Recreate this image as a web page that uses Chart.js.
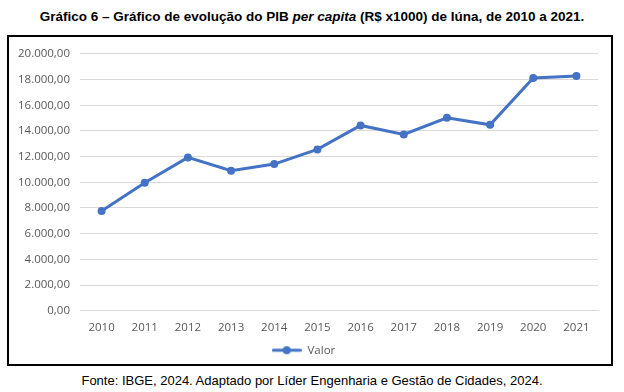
<!DOCTYPE html>
<html>
<head>
<meta charset="utf-8">
<script src="https://cdn.jsdelivr.net/npm/chart.js@4"></script>
<style>
  html, body { margin: 0; padding: 0; background: #fff; }
  body { width: 624px; height: 392px; position: relative; overflow: hidden; }
  #title { position: absolute; left: 0; top: 9px; width: 624px; text-align: center;
    font-family: "Liberation Sans", Arial, sans-serif; font-weight: bold; font-size: 13.5px; color: #000; }
  #title i { font-style: italic; }
  #box { position: absolute; left: 7px; top: 35px; width: 602px; height: 327px; border: 2px solid #000; overflow: hidden; }
  #wrap { position: absolute; left: 0; top: 0; width: 602px; height: 327px; }
  #foot { position: absolute; left: 0; top: 373px; width: 624px; text-align: center;
    font-family: "Liberation Sans", Arial, sans-serif; font-size: 13px; color: #000; }
</style>
</head>
<body>
<div id="title">Gráfico 6 – Gráfico de evolução do PIB <i>per capita</i> (R$ x1000) de Iúna, de 2010 a 2021.</div>
<div id="box"><div id="wrap"><canvas id="c"></canvas></div></div>
<div id="foot">Fonte: IBGE, 2024. Adaptado por Líder Engenharia e Gestão de Cidades, 2024.</div>
<script>
const categories = ["2010","2011","2012","2013","2014","2015","2016","2017","2018","2019","2020","2021"];
const valor = [7760, 9960, 11940, 10900, 11420, 12560, 14430, 13730, 15020, 14480, 18130, 18270];
const seriesName = "Valor";

function fmtBR(v) {
  const parts = Math.abs(v).toFixed(2).split(".");
  parts[0] = parts[0].replace(/\B(?=(\d{3})+(?!\d))/g, ".");
  return (v < 0 ? "-" : "") + parts[0] + "," + parts[1];
}

const blue = "#4472c4";
const legendIcon = document.createElement("canvas");
legendIcon.width = 30; legendIcon.height = 10;
(function () {
  const g = legendIcon.getContext("2d");
  g.strokeStyle = blue; g.lineWidth = 3; g.lineCap = "round";
  g.beginPath(); g.moveTo(1.5, 5); g.lineTo(28.5, 5); g.stroke();
  g.fillStyle = blue; g.beginPath(); g.arc(15, 5, 4, 0, Math.PI * 2); g.fill();
})();

const tickFont = { family: "'Open Sans', 'Noto Sans', sans-serif", size: 11.5 };
const grey = "#595959";

new Chart(document.getElementById("c"), {
  type: "line",
  data: {
    labels: categories,
    datasets: [{
      label: seriesName,
      data: valor,
      borderColor: blue,
      backgroundColor: blue,
      borderWidth: 3,
      pointRadius: 4,
      pointHoverRadius: 4,
      pointBackgroundColor: blue,
      pointBorderWidth: 0,
      tension: 0
    }]
  },
  options: {
    responsive: true,
    maintainAspectRatio: false,
    animation: false,
    layout: { padding: { top: 9, right: 13, bottom: -2, left: 0 } },
    plugins: {
      tooltip: { enabled: false },
      legend: {
        position: "bottom",
        labels: {
          usePointStyle: true,
          pointStyleWidth: 30,
          color: grey,
          font: tickFont,
          padding: 0,
          generateLabels: (chart) => [{
            text: seriesName, pointStyle: legendIcon, fontColor: grey,
            hidden: false, datasetIndex: 0, lineWidth: 0
          }]
        }
      }
    },
    scales: {
      x: {
        offset: true,
        grid: { display: false, drawTicks: false },
        border: { display: true, color: "#d9d9d9", width: 1 },
        ticks: { color: grey, font: tickFont, padding: 10, maxRotation: 0 }
      },
      y: {
        min: 0, max: 20000,
        afterFit: (s) => { s.width = 71; },
        grid: { color: "#d9d9d9", lineWidth: 1, drawTicks: false },
        border: { display: false },
        ticks: { stepSize: 2000, color: grey, font: tickFont, padding: 10,
          callback: (v) => fmtBR(v) }
      }
    }
  }
});
</script>
</body>
</html>
